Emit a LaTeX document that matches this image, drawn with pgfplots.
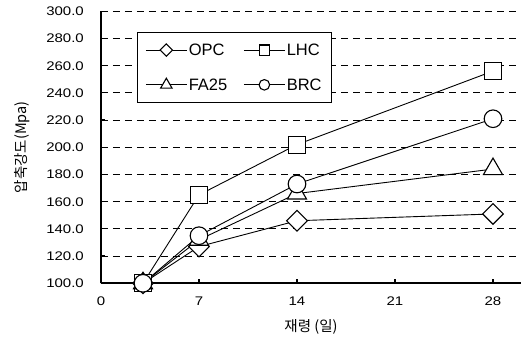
\documentclass[border=0pt]{standalone}
\usepackage{fontspec}
\setmainfont{Liberation Sans}
\newfontfamily\kr{Noto Sans CJK KR}
\newfontfamily\tickfont[FakeStretch=1.2]{Liberation Sans}
\usepackage{pgfplots}
\pgfplotsset{compat=1.18}
\pgfdeclareplotmark{rdiamond}{%
  \pgfpathmoveto{\pgfqpoint{0pt}{\pgfplotmarksize}}%
  \pgfpathlineto{\pgfqpoint{\pgfplotmarksize}{0pt}}%
  \pgfpathlineto{\pgfqpoint{0pt}{-\pgfplotmarksize}}%
  \pgfpathlineto{\pgfqpoint{-\pgfplotmarksize}{0pt}}%
  \pgfpathclose
  \pgfusepathqfillstroke}
\begin{document}
\begin{tikzpicture}
\path[use as bounding box] (-101pt,-58.7pt) rectangle (421pt,283.3pt);
\begin{axis}[
  scale only axis, width=420pt, height=272pt,
  xmin=0, xmax=30, ymin=100, ymax=300,
  xtick={0,7,14,21,28}, ytick={100,120,...,300},
  axis lines*=left,
  axis line style={-, line width=2.4pt},
  major tick length=4pt,
  tick style={line width=1.2pt, black},
  tick align=inside,
  ymajorgrids,
  grid style={dash pattern=on 7pt off 5pt, line width=0.8pt, black},
  clip=false,
  /pgf/number format/assume math mode=true,
  yticklabel style={/pgf/number format/fixed, /pgf/number format/fixed zerofill, /pgf/number format/precision=1,
    font=\tickfont\fontsize{12.5}{14}\selectfont, anchor=east, inner sep=0pt, xshift=-17pt},
  xticklabel style={font=\tickfont\fontsize{12.5}{14}\selectfont, anchor=center, inner sep=0pt, yshift=-17.7pt},
  xlabel={\kr 재령 (일)},
  every axis x label/.style={at={(axis description cs:0.5,0)}, anchor=center, yshift=-43.7pt, font=\fontsize{14.5}{16}\selectfont},
  ylabel={\kr 압축강도(Mpa)},
  every axis y label/.style={at={(axis description cs:0,0.5)}, anchor=center, rotate=90, yshift=79pt, font=\fontsize{14.5}{16}\selectfont},
  legend columns=2,
  legend cell align=left,
  legend style={at={(rel axis cs:0.0857,0.924)}, anchor=north west, draw=black, line width=0.8pt,
    inner xsep=8pt, inner ysep=11.5pt, row sep=22pt,
    font=\fontsize{16.5}{18}\selectfont,
    nodes={inner xsep=1.5pt, inner ysep=0pt, text height=11.8pt, text depth=0pt},
    /tikz/every even column/.append style={column sep=14.6pt}},
  legend image code/.code={\draw[mark repeat=2, mark phase=2, every mark/.append style={scale=0.6}]
     plot coordinates {(0pt,0pt) (20.5pt,0pt) (41pt,0pt)};},
  every axis plot/.append style={black, line width=0.9pt, mark options={fill=white, solid, line width=1.1pt}},
]
\addplot[mark=rdiamond, mark size=10.3pt] coordinates {(3,100) (7,127) (14,146) (28,151)};
\addlegendentry{OPC}
\addplot[mark=square*, mark size=8.5pt] coordinates {(3,100) (7,165) (14,202) (28,256)};
\addlegendentry{LHC}
\addplot[mark=triangle*, mark size=11pt] coordinates {(3,100) (7,132) (14,166) (28,184)};
\addlegendentry{FA25}
\addplot[mark=*, mark size=8.8pt] coordinates {(3,100) (7,135) (14,173) (28,221)};
\addlegendentry{BRC}
\end{axis}
\end{tikzpicture}
\end{document}
